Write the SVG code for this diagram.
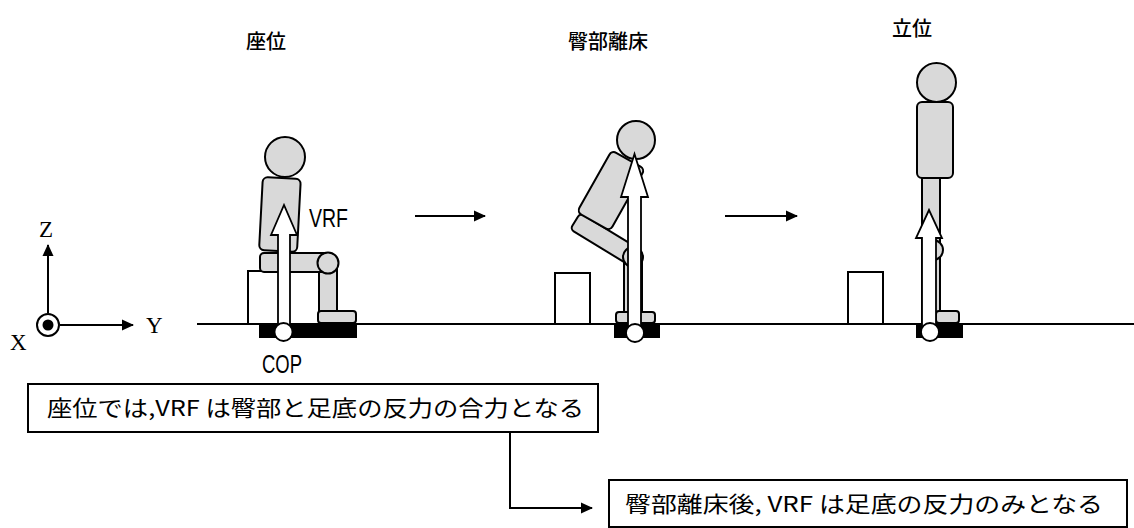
<svg xmlns="http://www.w3.org/2000/svg" width="1134" height="528" viewBox="0 0 1134 528">
  <defs>
    <style>
      .body { fill: #d9d9d9; stroke: #000; stroke-width: 2; }
      .chair { fill: #fff; stroke: #000; stroke-width: 2; }
      .plate { fill: #000; }
      .force { fill: #fff; stroke: #000; stroke-width: 1.8; stroke-linejoin: miter; }
      .cop { fill: #fff; stroke: #000; stroke-width: 1.8; }
      .ground { stroke: #000; stroke-width: 2; fill: none; }
      .line { stroke: #000; stroke-width: 2; fill: none; }
      .title { font-family: "Noto Sans CJK JP", sans-serif; font-size: 20px; font-weight: 500; fill: #000; text-anchor: middle; }
      .lbl { font-family: "Liberation Sans", sans-serif; font-size: 25px; fill: #000; }
      .axis { font-family: "Liberation Serif", serif; font-size: 23px; fill: #000; }
      .note { font-family: "Noto Sans CJK JP", sans-serif; font-size: 22px; fill: #000; }
      .box { fill: #fff; stroke: #000; stroke-width: 2; }
    </style>
    <marker id="tip" viewBox="0 0 12 12" refX="11" refY="6" markerWidth="12" markerHeight="12" markerUnits="userSpaceOnUse" orient="auto">
      <path d="M0,0.5 L12,6 L0,11.5 Z" fill="#000"/>
    </marker>
  </defs>

  <!-- coordinate axes -->
  <g id="axes">
    <line class="line" x1="48" y1="313" x2="48" y2="245" marker-end="url(#tip)"/>
    <line class="line" x1="60" y1="325" x2="133" y2="325" marker-end="url(#tip)"/>
    <circle cx="48" cy="325" r="11" fill="#fff" stroke="#000" stroke-width="2"/>
    <circle cx="48" cy="325" r="5.5" fill="#000"/>
    <text class="axis" x="39" y="237">Z</text>
    <text class="axis" x="146" y="333">Y</text>
    <text class="axis" x="10" y="350">X</text>
  </g>

  <!-- floor -->
  <line id="floor" class="ground" x1="197" y1="324" x2="1134" y2="324"/>

  <!-- phase titles -->
  <text class="title" x="266" y="49">座位</text>
  <text class="title" x="608" y="49">臀部離床</text>
  <text class="title" x="912" y="36">立位</text>

  <!-- sitting -->
  <g id="sitting">
    <rect class="chair" x="248" y="271" width="72" height="53"/>
    <rect class="body" x="319" y="262" width="18" height="52"/>
    <rect class="body" x="318" y="311" width="38" height="12" rx="3"/>
    <rect class="body" x="260" y="253" width="70" height="19" rx="4"/>
    <circle class="body" cx="328" cy="263" r="10.5"/>
    <rect class="body" x="-19" y="-73" width="38" height="73" rx="5" transform="translate(278,251) rotate(3)"/>
    <circle class="body" cx="285" cy="157" r="20"/>
    <rect class="plate" x="259" y="324" width="98" height="14"/>
    <path class="force" d="M278,330 V235 H271 L284,205 L297,235 H290 V330 Z"/>
    <circle class="cop" cx="283.5" cy="332" r="9"/>
    <text class="lbl" x="309" y="227" textLength="39" lengthAdjust="spacingAndGlyphs">VRF</text>
    <text class="lbl" x="262" y="373" textLength="40" lengthAdjust="spacingAndGlyphs">COP</text>
  </g>

  <!-- seat-off -->
  <g id="seat-off">
    <rect class="chair" x="555" y="273" width="35" height="51"/>
    <rect class="body" x="624" y="257" width="18" height="56"/>
    <rect class="body" x="616" y="312" width="39" height="11" rx="3"/>
    <rect class="body" x="-68" y="-10" width="70" height="19" rx="4" transform="translate(633,257) rotate(31.4)"/>
    <rect class="body" x="-19" y="-71" width="38" height="71" rx="5" transform="translate(593.5,221.5) rotate(29.4)"/>
    <circle class="body" cx="633" cy="257" r="10"/>
    <circle class="body" cx="636" cy="140" r="19"/>
    <rect class="plate" x="614" y="324" width="46" height="14"/>
    <path class="force" d="M628,333 V197 H621 L634.5,154 L648,197 H641 V333 Z"/>
    <circle class="cop" cx="635" cy="333" r="9"/>
  </g>

  <!-- standing -->
  <g id="standing">
    <rect class="chair" x="848" y="272" width="35" height="52"/>
    <rect class="body" x="922" y="250" width="18" height="73"/>
    <rect class="body" x="922" y="177" width="18" height="74"/>
    <circle class="body" cx="933" cy="250" r="10"/>
    <rect class="body" x="936" y="311" width="23" height="12" rx="3"/>
    <rect class="body" x="917" y="102" width="36" height="76" rx="5"/>
    <circle class="body" cx="936.5" cy="82.5" r="19.5"/>
    <rect class="plate" x="916" y="324" width="47" height="14"/>
    <path class="force" d="M922,332 V238 H916 L929,210 L942,238 H936 V332 Z"/>
    <circle class="cop" cx="930" cy="332" r="9"/>
  </g>

  <!-- transitions and note link -->
  <g id="connectors">
    <line class="line" x1="415" y1="216" x2="485" y2="216" marker-end="url(#tip)"/>
    <line class="line" x1="725" y1="216" x2="797" y2="216" marker-end="url(#tip)"/>
    <polyline class="line" points="510,432 510,508 592,508" marker-end="url(#tip)"/>
  </g>

  <!-- notes -->
  <g id="note-sitting">
    <rect class="box" x="28" y="384" width="570" height="48"/>
    <text class="note" x="47" y="416" textLength="537" lengthAdjust="spacingAndGlyphs">座位では,VRF は臀部と足底の反力の合力となる</text>
  </g>
  <g id="note-seat-off">
    <rect class="box" x="609" y="480" width="518" height="47"/>
    <text class="note" x="625" y="512" textLength="478" lengthAdjust="spacingAndGlyphs">臀部離床後, VRF は足底の反力のみとなる</text>
  </g>
</svg>
